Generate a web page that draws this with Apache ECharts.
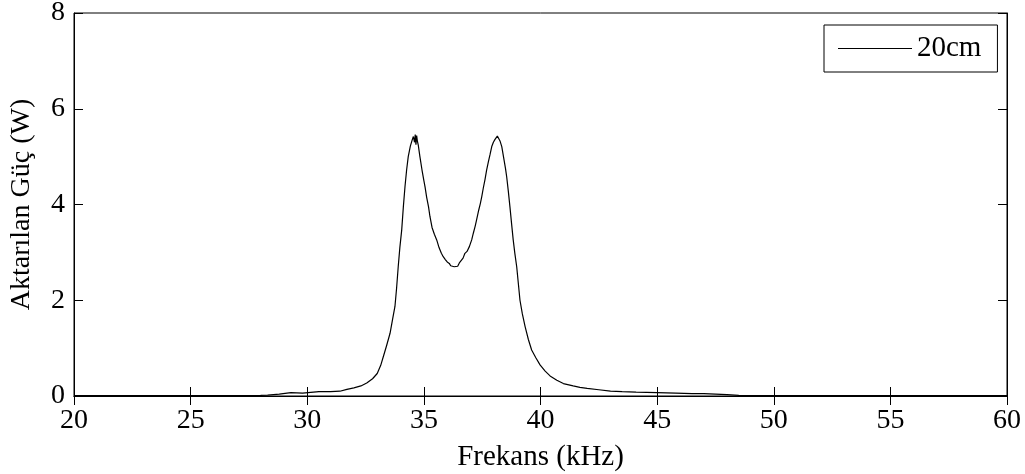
<!DOCTYPE html>
<html>
<head>
<meta charset="utf-8">
<script src="https://cdn.jsdelivr.net/npm/echarts@6/dist/echarts.min.js"></script>
<style>html,body{margin:0;padding:0;background:#fff}#c{width:1025px;height:474px}</style>
</head>
<body>
<div id="c"></div>
<script>
const freq = [20, 22, 24, 26, 27, 28, 28.3, 28.8, 29.3, 29.8, 30.5, 31.0, 31.4, 31.7, 32.0, 32.3, 32.55, 32.8, 33.0, 33.15, 33.26, 33.4, 33.55, 33.65, 33.76, 33.83, 33.9, 33.97, 34.05, 34.12, 34.19, 34.26, 34.33, 34.42, 34.5, 34.55, 34.6, 34.63, 34.66, 34.69, 34.72, 34.76, 34.83, 34.92, 35.0, 35.05, 35.12, 35.2, 35.26, 35.35, 35.45, 35.55, 35.65, 35.75, 35.83, 35.92, 36.0, 36.09, 36.15, 36.22, 36.3, 36.38, 36.45, 36.52, 36.6, 36.68, 36.76, 36.85, 36.95, 37.05, 37.12, 37.2, 37.26, 37.35, 37.42, 37.48, 37.55, 37.62, 37.69, 37.76, 37.84, 37.91, 37.98, 38.05, 38.1, 38.15, 38.2, 38.27, 38.34, 38.42, 38.5, 38.55, 38.62, 38.69, 38.76, 38.83, 38.9, 38.98, 39.05, 39.12, 39.22, 39.34, 39.48, 39.62, 39.8, 39.98, 40.2, 40.41, 40.7, 40.98, 41.4, 41.69, 42.0, 42.5, 43.0, 43.5, 44.1, 45.0, 45.8, 46.5, 47.0, 47.5, 48.0, 48.5, 50, 55, 60];
const power = [0.01, 0.01, 0.01, 0.01, 0.01, 0.015, 0.02, 0.04, 0.07, 0.06, 0.09, 0.09, 0.1, 0.14, 0.17, 0.21, 0.27, 0.36, 0.47, 0.64, 0.82, 1.05, 1.31, 1.58, 1.87, 2.25, 2.7, 3.1, 3.47, 3.95, 4.37, 4.72, 5.0, 5.22, 5.35, 5.42, 5.3, 5.46, 5.25, 5.44, 5.33, 5.24, 5.0, 4.72, 4.5, 4.37, 4.15, 3.95, 3.75, 3.52, 3.38, 3.26, 3.1, 2.98, 2.91, 2.85, 2.8, 2.77, 2.72, 2.76, 2.7, 2.74, 2.71, 2.78, 2.75, 2.88, 2.98, 3.02, 3.12, 3.26, 3.4, 3.55, 3.68, 3.88, 4.02, 4.16, 4.35, 4.52, 4.72, 4.88, 5.05, 5.21, 5.3, 5.36, 5.4, 5.43, 5.4, 5.32, 5.21, 4.98, 4.75, 4.58, 4.28, 3.95, 3.6, 3.26, 2.98, 2.7, 2.35, 2.0, 1.72, 1.45, 1.18, 0.96, 0.8, 0.65, 0.52, 0.42, 0.33, 0.26, 0.21, 0.18, 0.16, 0.13, 0.1, 0.09, 0.08, 0.07, 0.06, 0.05, 0.05, 0.04, 0.03, 0.015, 0.01, 0.01, 0.01];
const seriesName = '20cm';
const xLabel = 'Frekans (kHz)';
const yLabel = 'Aktarılan Güç (W)';

const FONT = 'Liberation Serif';
const chart = echarts.init(document.getElementById('c'), null, {renderer: 'canvas'});
const pts = freq.map((f, i) => [f, power[i]]);
const tickStyle = {show: true, inside: true, length: 9, lineStyle: {color: '#000', width: 1}};
chart.setOption({
  animation: false,
  backgroundColor: '#fff',
  grid: {left: 74, right: 18, top: 13, bottom: 78, show: true, borderColor: '#000', borderWidth: 1, backgroundColor: 'transparent', containLabel: false, outerBoundsMode: 'none'},
  legend: {
    show: true, left: 824, top: 25, padding: [9, 16, 9, 14],
    borderColor: '#000', borderWidth: 1, backgroundColor: '#fff',
    itemWidth: 74, itemHeight: 1, icon: 'rect',
    textStyle: {fontFamily: FONT, fontSize: 29, color: '#000'},
    data: [seriesName]
  },
  xAxis: [
    {type: 'value', min: 20, max: 60, interval: 5, position: 'bottom',
     name: xLabel, nameLocation: 'middle', nameGap: 47,
     nameTextStyle: {fontFamily: FONT, fontSize: 29, color: '#000'},
     axisLine: {show: true, lineStyle: {color: '#000', width: 1}},
     axisTick: tickStyle, splitLine: {show: false},
     axisLabel: {fontFamily: FONT, fontSize: 28, color: '#000', margin: 11}},
    {type: 'value', min: 20, max: 60, interval: 5, position: 'top',
     axisLine: {show: true, lineStyle: {color: '#000', width: 1}},
     axisTick: tickStyle, axisLabel: {show: false}, splitLine: {show: false}}
  ],
  yAxis: [
    {type: 'value', min: 0, max: 8, interval: 2, position: 'left',
     name: yLabel, nameLocation: 'middle', nameGap: 38,
     nameTextStyle: {fontFamily: FONT, fontSize: 28, color: '#000'},
     axisLine: {show: true, lineStyle: {color: '#000', width: 1}},
     axisTick: tickStyle, splitLine: {show: false},
     axisLabel: {fontFamily: FONT, fontSize: 28, color: '#000', margin: 9}},
    {type: 'value', min: 0, max: 8, interval: 2, position: 'right',
     axisLine: {show: true, lineStyle: {color: '#000', width: 1}},
     axisTick: tickStyle, axisLabel: {show: false}, splitLine: {show: false}}
  ],
  series: [{
    name: seriesName, type: 'line', data: pts, showSymbol: false, symbol: 'none',
    lineStyle: {color: '#000', width: 1.2}, itemStyle: {color: '#000'}, z: 3
  }]
});
</script>
</body>
</html>
